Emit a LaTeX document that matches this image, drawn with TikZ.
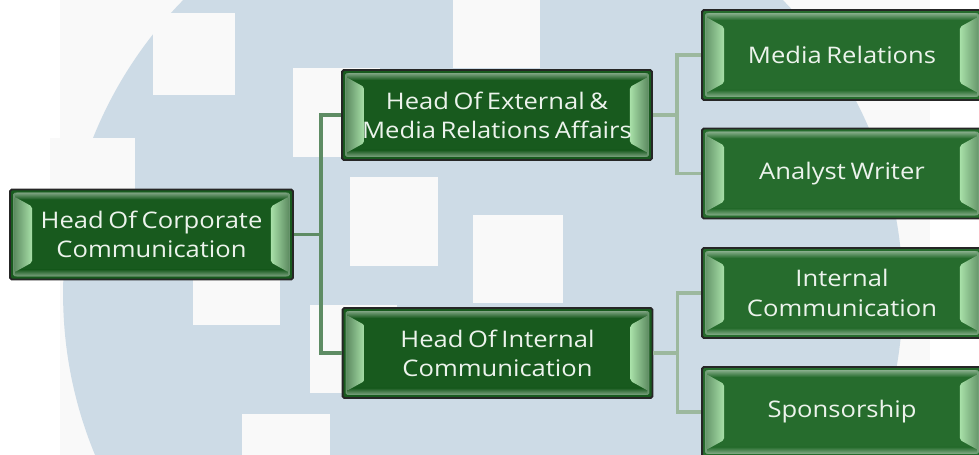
\documentclass[tikz,border=0pt]{standalone}
\usepackage{fontspec}
\setmainfont[FakeStretch=1.12,WordSpace=0.7]{Open Sans}
\definecolor{backblue}{RGB}{205,219,230}
\definecolor{pagegrey}{RGB}{249,249,249}
\definecolor{headgreen}{RGB}{24,90,30}
\definecolor{leafgreen}{RGB}{38,108,45}
\definecolor{bevellight}{RGB}{168,224,168}
\definecolor{trunkgreen}{RGB}{94,140,100}
\definecolor{branchgreen}{RGB}{156,184,158}
\definecolor{labelwhite}{RGB}{236,243,236}

\begin{document}
\begin{tikzpicture}[x=0.02cm,y=-0.02cm,
	bevel/.style={fill=#1,draw=black!85,line width=1.1pt,rounded corners=1pt,
		path picture={
			\path (path picture bounding box.south west) coordinate (bsw)
				(path picture bounding box.north east) coordinate (bne)
				(path picture bounding box.north west) coordinate (bnw)
				(path picture bounding box.south east) coordinate (bse);
			\fill[#1!65!white] ([shift={(0.06cm,0.06cm)}]bsw) rectangle ([shift={(-0.06cm,-0.06cm)}]bne);
			\fill[#1] ([shift={(0.14cm,0.16cm)}]bsw) rectangle ([shift={(-0.14cm,-0.16cm)}]bne);
			\shade[top color=#1!55!white,bottom color=#1] ([shift={(0.1cm,-0.06cm)}]bnw) rectangle ([shift={(-0.1cm,-0.2cm)}]bne);
			\shade[top color=#1,bottom color=#1!55!white] ([shift={(0.1cm,0.2cm)}]bsw) rectangle ([shift={(-0.1cm,0.06cm)}]bse);
			\shade[left color=#1!70!white,right color=bevellight] ([shift={(0.08cm,0.14cm)}]bsw) -- ([shift={(0.44cm,0.34cm)}]bsw)
				-- ([shift={(0.44cm,-0.34cm)}]bnw) -- ([shift={(0.08cm,-0.14cm)}]bnw) -- cycle;
			\shade[right color=#1!70!white,left color=bevellight] ([shift={(-0.08cm,0.14cm)}]bse) -- ([shift={(-0.44cm,0.34cm)}]bse)
				-- ([shift={(-0.44cm,-0.34cm)}]bne) -- ([shift={(-0.08cm,-0.14cm)}]bne) -- cycle;
		},
		text=labelwhite,align=center,inner sep=0pt,
		font=\fontsize{13}{16.6}\selectfont},
	headbox/.style={bevel=headgreen,minimum width=6.2cm,minimum height=1.8cm},
	leafbox/.style={bevel=leafgreen,minimum width=5.6cm,minimum height=1.8cm},
	trunk/.style={trunkgreen,line width=2.2pt},
	branch/.style={branchgreen,line width=1.8pt}]
	\useasboundingbox (0,0) rectangle (979,455);
%	\draw[help lines,step=50] (0,0) grid (979,455);

	% backdrop
	\fill[pagegrey] (60,0) rectangle (930,455);
	\fill[backblue] (483,294) circle[radius=8.4cm];
	\foreach \xa/\ya/\xb/\yb in {153/13/235/95, 50/138/135/225, 193/240/280/325,
		293/68/380/157, 350/177/438/266, 310/305/397/393, 242/414/330/500,
		473/215/563/303, 453/-20/540/68}
		\fill[pagegrey] (\xa,\ya) rectangle (\xb,\yb);

	% boxes
	\path (151.5,234.5) node(corp) [headbox,minimum width=5.66cm] {Head Of Corporate\\Communication};
	\path (497,115) node(extern) [headbox] {Head Of External \&\\Media Relations Affairs};
	\path (497.5,353) node(intern) [headbox] {Head Of Internal\\Communication};
	\path (842,55) node(media) [leafbox] {Media Relations};
	\path (842,173.5) node(analyst) [leafbox] {Analyst Writer};
	\path (842,293) node(intcomm) [leafbox] {Internal\\Communication};
	\path (842,412) node(sponsor) [leafbox] {Sponsorship};

	% connectors
	\draw[trunk] (corp.east) -- ++(27,0) coordinate (corpfork);
	\draw[trunk] (corpfork) |- (extern.west);
	\draw[trunk] (corpfork) |- (intern.west);
	\draw[branch] (extern.east) -- ++(24,0) coordinate (externfork);
	\draw[branch] (externfork) |- (media.west);
	\draw[branch] (externfork) |- (analyst.west);
	\draw[branch] (intern.east) -- ++(24,0) coordinate (internfork);
	\draw[branch] (internfork) |- (intcomm.west);
	\draw[branch] (internfork) |- (sponsor.west);
\end{tikzpicture}
\end{document}
